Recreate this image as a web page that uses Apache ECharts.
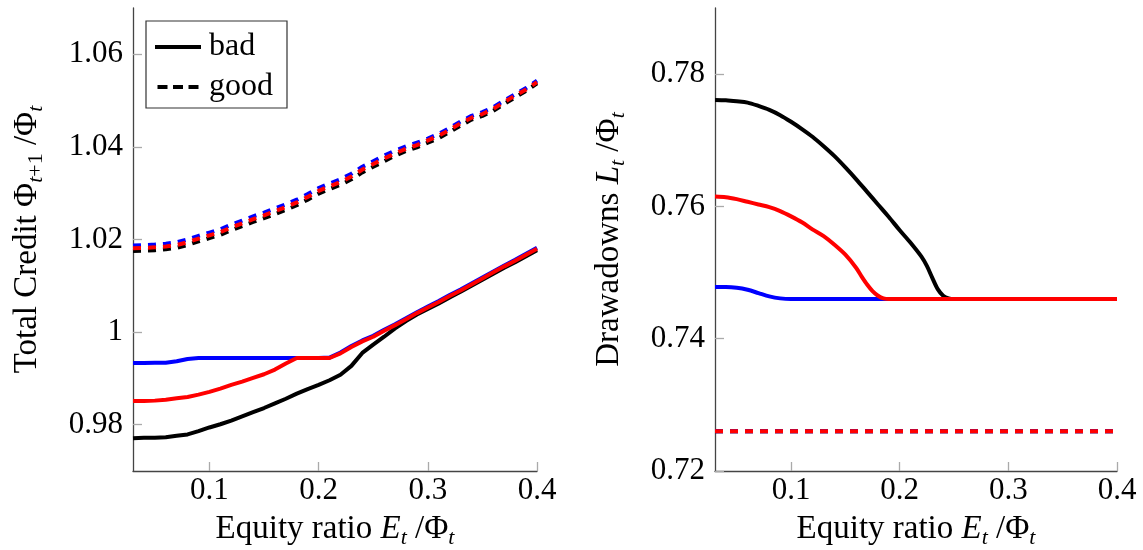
<!DOCTYPE html>
<html><head><meta charset="utf-8">
<script src="https://cdn.jsdelivr.net/npm/echarts@6/dist/echarts.min.js"></script>
<style>html,body{margin:0;padding:0;background:#fff}#chart{width:1143px;height:550px}</style>
</head><body><div id="chart"></div>
<script>
// ---------- data ----------
const xTicks = [0.1, 0.2, 0.3, 0.4];
const creditTicks = [0.98, 1.0, 1.02, 1.04, 1.06];
const drawTicks = [0.72, 0.74, 0.76, 0.78];
const legendNames = ['bad', 'good'];

const xCredit = [0.03,0.04,0.05,0.06,0.07,0.08,0.09,0.10,0.11,0.12,0.13,0.14,0.15,0.16,0.17,0.18,0.19,0.20,0.21,0.22,0.23,0.24,0.25,0.26,0.27,0.28,0.29,0.30,0.31,0.32,0.33,0.34,0.35,0.36,0.37,0.38,0.39,0.40];
const creditBadBlack = [0.9771,0.9772,0.9772,0.9773,0.9776,0.9779,0.9786,0.9794,0.9801,0.9809,0.9818,0.9827,0.9836,0.9846,0.9856,0.9867,0.9877,0.9886,0.9896,0.9908,0.9927,0.9955,0.9973,0.9990,1.0008,1.0024,1.0038,1.0050,1.0062,1.0075,1.0087,1.0100,1.0113,1.0126,1.0139,1.0151,1.0164,1.0177];
const creditBadBlue = [0.9933,0.9933,0.9934,0.9934,0.9937,0.9942,0.9944,0.9944,0.9944,0.9944,0.9944,0.9944,0.9944,0.9944,0.9944,0.9944,0.9944,0.9944,0.9945,0.9956,0.9970,0.9982,0.9992,1.0005,1.0017,1.0030,1.0043,1.0055,1.0067,1.0080,1.0092,1.0105,1.0118,1.0131,1.0144,1.0156,1.0169,1.0182];
const creditBadRed = [0.9851,0.9851,0.9852,0.9854,0.9857,0.9860,0.9865,0.9871,0.9878,0.9886,0.9893,0.9901,0.9909,0.9919,0.9932,0.9944,0.9944,0.9944,0.9944,0.9954,0.9968,0.9980,0.9990,1.0003,1.0015,1.0028,1.0041,1.0053,1.0065,1.0078,1.0090,1.0103,1.0116,1.0129,1.0142,1.0154,1.0167,1.0180];
const creditGoodBlack = [1.0175,1.0176,1.0177,1.0179,1.0182,1.0188,1.0196,1.0203,1.0210,1.0220,1.0229,1.0238,1.0246,1.0255,1.0264,1.0274,1.0286,1.0299,1.0309,1.0318,1.0330,1.0345,1.0357,1.0369,1.0381,1.0391,1.0399,1.0409,1.0419,1.0432,1.0446,1.0459,1.0467,1.0478,1.0493,1.0507,1.0521,1.0537];
const creditGoodBlue = [1.0187,1.0188,1.0189,1.0191,1.0194,1.0200,1.0208,1.0215,1.0222,1.0232,1.0241,1.0250,1.0258,1.0267,1.0276,1.0286,1.0298,1.0311,1.0321,1.0330,1.0342,1.0357,1.0369,1.0381,1.0392,1.0401,1.0409,1.0418,1.0428,1.0441,1.0455,1.0467,1.0475,1.0486,1.0500,1.0514,1.0527,1.0543];
const creditGoodRed = [1.0181,1.0182,1.0183,1.0185,1.0188,1.0194,1.0202,1.0209,1.0216,1.0226,1.0235,1.0244,1.0252,1.0261,1.0270,1.0280,1.0292,1.0305,1.0315,1.0324,1.0336,1.0351,1.0363,1.0375,1.0386,1.0396,1.0404,1.0414,1.0424,1.0437,1.0451,1.0463,1.0471,1.0482,1.0497,1.0511,1.0524,1.0540];

const xDrawBlack = [0.03,0.04,0.05,0.06,0.07,0.08,0.09,0.10,0.11,0.12,0.13,0.14,0.15,0.16,0.17,0.18,0.19,0.20,0.21,0.22,0.225,0.23,0.235,0.24,0.245,0.25,0.30,0.35,0.40];
const drawBadBlack = [0.7761,0.77605,0.7759,0.7757,0.7752,0.7746,0.7738,0.7728,0.7717,0.7705,0.7691,0.7676,0.7659,0.7641,0.7622,0.7603,0.7584,0.7564,0.7545,0.7524,0.7510,0.7492,0.7475,0.7465,0.7461,0.7460,0.7460,0.7460,0.7460];
const xDrawRed = [0.03,0.04,0.05,0.06,0.07,0.08,0.09,0.10,0.11,0.12,0.13,0.14,0.15,0.16,0.165,0.17,0.175,0.18,0.185,0.19,0.25,0.30,0.35,0.40];
const drawBadRed = [0.7615,0.7614,0.7611,0.7607,0.7603,0.7599,0.7593,0.7585,0.7576,0.7565,0.7555,0.7542,0.7527,0.7507,0.7494,0.7482,0.7472,0.7465,0.7461,0.7460,0.7460,0.7460,0.7460,0.7460];
const xDrawBlue = [0.03,0.04,0.05,0.06,0.07,0.08,0.09,0.10,0.15,0.20,0.25,0.30,0.35,0.40];
const drawBadBlue = [0.7478,0.7478,0.7477,0.7474,0.7469,0.7464,0.7461,0.7460,0.7460,0.7460,0.7460,0.7460,0.7460,0.7460];
const xDrawGood = [0.03, 0.40];
const drawGoodAll = [0.726, 0.726];

// ---------- style ----------
const FONT = 'Liberation Serif';
const FS = 31;
const NFS = 33;
const rich = {
  up:  {fontFamily: FONT, fontSize: NFS, color: '#000', lineHeight: 40},
  it:  {fontFamily: FONT, fontSize: NFS, color: '#000', fontStyle: 'italic', lineHeight: 40},
  sub: {fontFamily: FONT, fontSize: 22, color: '#000', fontStyle: 'italic', lineHeight: 22, verticalAlign: 'bottom'},
  subu:{fontFamily: FONT, fontSize: 22, color: '#000', lineHeight: 22, verticalAlign: 'bottom'}
};
const xName = '{up|Equity ratio }{it|E}{sub|t}{up| /Φ}{sub|t}';
const yNameL = '{up|Total Credit Φ}{sub|t}{subu|+1}{up| /Φ}{sub|t}';
const yNameR = '{up|Drawadowns }{it|L}{sub|t}{up| /Φ}{sub|t}';

const LW = 4;
const DASH = [8, 7];
const BLACK = '#000000', RED = '#ff0000', BLUE = '#0000ff';

function pairs(xs, ys) { return xs.map((x, i) => [x, ys[i]]); }
function xAxisDef(gi) {
  return {
    type: 'value', gridIndex: gi, min: 0.03, max: 0.4,
    name: xName, nameLocation: 'middle', nameGap: 38,
    nameTextStyle: {fontFamily: FONT, fontSize: NFS, color: '#000', rich: rich, verticalAlign: 'top'},
    axisLine: {show: true, onZero: false, lineStyle: {color: '#444', width: 1.3}},
    axisTick: {show: true, inside: true, length: 9, customValues: xTicks, lineStyle: {color: '#aaa', width: 1.3}},
    axisLabel: {customValues: xTicks, fontFamily: FONT, fontSize: FS, color: '#000', margin: 4},
    splitLine: {show: false}
  };
}
function yAxisDef(gi, min, max, ticks, name) {
  return {
    type: 'value', gridIndex: gi, min: min, max: max,
    name: name, nameLocation: 'middle', nameGap: 86,
    nameTextStyle: {fontFamily: FONT, fontSize: NFS, color: '#000', rich: rich},
    axisLine: {show: true, onZero: false, lineStyle: {color: '#444', width: 1.3}},
    axisTick: {show: true, inside: true, length: 9, customValues: ticks, lineStyle: {color: '#aaa', width: 1.3}},
    axisLabel: {customValues: ticks, fontFamily: FONT, fontSize: FS, color: '#000', margin: 10},
    splitLine: {show: false}
  };
}
function line(name, xi, xs, ys, color, dashed, smooth) {
  return {
    name: name, type: 'line', xAxisIndex: xi, yAxisIndex: xi,
    data: pairs(xs, ys), symbol: 'none', showSymbol: false, smooth: smooth || false,
    color: color,
    lineStyle: {color: color, width: LW, type: dashed ? DASH : 'solid', cap: 'butt'},
    silent: true, animation: false
  };
}

const option = {
  backgroundColor: '#fff',
  animation: false,
  grid: [
    {left: 133, top: 8, width: 404, height: 463, containLabel: false, outerBoundsMode: 'none'},
    {left: 715, top: 8, width: 402, height: 463, containLabel: false, outerBoundsMode: 'none'}
  ],
  legend: {
    data: [
      {name: legendNames[0], icon: 'path://M0,0h46v4h-46z'},
      {name: legendNames[1], icon: 'path://M0,0h10v4h-10zM15.5,0h10v4h-10zM31,0h10v4h-10z'}
    ],
    orient: 'vertical', left: 146, top: 21,
    itemWidth: 46, itemHeight: 4, itemGap: 8,
    padding: [10, 14, 5, 9],
    borderColor: '#333', borderWidth: 1.2, backgroundColor: '#fff',
    itemStyle: {color: BLACK, borderWidth: 0},
    textStyle: {fontFamily: FONT, fontSize: 32, color: '#000', lineHeight: 30, padding: [0, 0, 0, 3]},
    selectedMode: false
  },
  xAxis: [xAxisDef(0), xAxisDef(1)],
  yAxis: [
    yAxisDef(0, 0.97, 1.07, creditTicks, yNameL),
    yAxisDef(1, 0.72, 0.79, drawTicks, yNameR)
  ],
  series: [
    {name: legendNames[0], type: 'line', data: [], symbol: 'none', color: BLACK, lineStyle: {color: BLACK, width: LW, type: 'solid'}},
    {name: legendNames[1], type: 'line', data: [], symbol: 'none', color: BLACK, lineStyle: {color: BLACK, width: LW, type: DASH}},
    line('cgk', 0, xCredit, creditGoodBlack, BLACK, true),
    line('cgb', 0, xCredit, creditGoodBlue, BLUE, true),
    line('cgr', 0, xCredit, creditGoodRed, RED, true),
    line('cbk', 0, xCredit, creditBadBlack, BLACK, false),
    line('cbb', 0, xCredit, creditBadBlue, BLUE, false),
    line('cbr', 0, xCredit, creditBadRed, RED, false),
    line('dgk', 1, xDrawGood, drawGoodAll, BLACK, true),
    line('dgb', 1, xDrawGood, drawGoodAll, BLUE, true),
    line('dgr', 1, xDrawGood, drawGoodAll, RED, true),
    line('dbk', 1, xDrawBlack, drawBadBlack, BLACK, false, 0.3),
    line('dbb', 1, xDrawBlue, drawBadBlue, BLUE, false, 0.3),
    line('dbr', 1, xDrawRed, drawBadRed, RED, false, 0.3)
  ]
};
const chart = echarts.init(document.getElementById('chart'), null, {renderer: 'canvas'});
chart.setOption(option);
</script>
</body></html>
